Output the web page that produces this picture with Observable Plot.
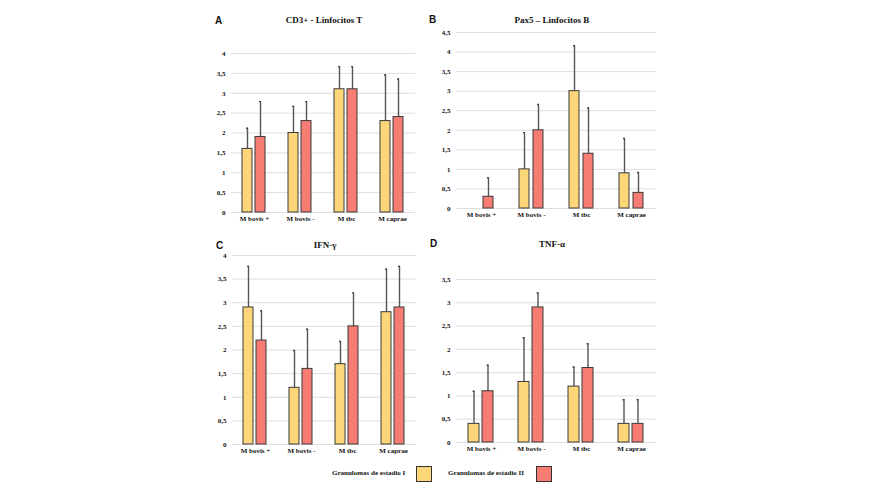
<!DOCTYPE html>
<html>
<head>
<meta charset="utf-8">
<script src="https://cdn.jsdelivr.net/npm/d3@7"></script>
<script src="https://cdn.jsdelivr.net/npm/@observablehq/plot@0.6"></script>
<style>
  body { margin: 0; background: #fff; }
  #fig { position: relative; width: 875px; height: 500px; overflow: hidden; background: #fff; }
  #fig svg { position: absolute; }
  .title { position: absolute; font: bold 9px "Liberation Serif", "Times New Roman", serif; color: #111;
           transform: translate(-50%, -50%); white-space: nowrap; }
  .letter { position: absolute; font: bold 10px "Liberation Sans", Arial, sans-serif; color: #111;
            transform: translateY(-50%); }
  .legend-text { position: absolute; font: bold 7px "Liberation Serif", "Times New Roman", serif; color: #111;
                 transform: translateY(-50%); white-space: nowrap; }
  .swatch { position: absolute; width: 14px; height: 14px; border: 1px solid #333; }
</style>
</head>
<body>
<div id="fig"></div>
<script>
// Mycobacterium groups and granuloma stages
const categories = ["M bovis +", "M bovis -", "M tbc", "M caprae"];
const stages = ["Granulomas de estadio I", "Granulomas de estadio II"];
const stageColors = ["#fdd67a", "#f77c74"];

// A: CD3+ T lymphocytes (mean and upper end of error bar)
const cd3StageI = [1.6, 2.0, 3.1, 2.3];
const cd3StageII = [1.9, 2.3, 3.1, 2.4];
const cd3UpperI = [2.12, 2.67, 3.67, 3.46];
const cd3UpperII = [2.79, 2.79, 3.67, 3.36];

// B: Pax5 B lymphocytes
const pax5StageI = [0, 1.0, 3.0, 0.9];
const pax5StageII = [0.3, 2.0, 1.4, 0.4];
const pax5UpperI = [0, 1.94, 4.16, 1.79];
const pax5UpperII = [0.78, 2.66, 2.57, 0.92];

// C: IFN-γ
const ifnStageI = [2.9, 1.2, 1.7, 2.8];
const ifnStageII = [2.2, 1.6, 2.5, 2.9];
const ifnUpperI = [3.77, 1.99, 2.18, 3.71];
const ifnUpperII = [2.83, 2.44, 3.21, 3.77];

// D: TNF-α
const tnfStageI = [0.4, 1.3, 1.2, 0.4];
const tnfStageII = [1.1, 2.9, 1.6, 0.4];
const tnfUpperI = [1.10, 2.25, 1.62, 0.92];
const tnfUpperII = [1.66, 3.21, 2.12, 0.92];

// y-axis tops of each panel
const yMaxA = 4, yMaxB = 4.5, yMaxC = 4, yMaxD = 3.5;

const fig = document.getElementById("fig");

function rowsFor(meansI, meansII, upperI, upperII) {
  const rows = [];
  categories.forEach((c, i) => {
    rows.push({category: c, stage: stages[0], value: meansI[i], upper: upperI[i]});
    rows.push({category: c, stage: stages[1], value: meansII[i], upper: upperII[i]});
  });
  return rows;
}

const commaFormat = d => String(d).replace(".", ",");

function drawPanel(p) {
  const rows = rowsFor(p.meansI, p.meansII, p.upperI, p.upperII);
  const ticks = d3.range(0, p.yMax + 1e-9, 0.5);
  const withBar = rows.filter(d => d.value > 0);
  const withErr = rows.filter(d => d.upper > d.value);
  const chart = Plot.plot({
    width: p.width,
    height: p.height,
    marginTop: p.marginTop,
    marginRight: p.marginRight,
    marginBottom: p.marginBottom,
    marginLeft: p.marginLeft,
    style: {
      fontFamily: '"Liberation Serif", "Times New Roman", serif',
      fontWeight: "bold",
      fontSize: "7px",
      color: "#111",
      background: "transparent",
      overflow: "visible"
    },
    fx: {domain: categories, padding: 0, axis: "bottom", label: null, tickSize: 0, tickPadding: 4},
    x: {domain: stages, axis: null, paddingInner: p.inner, paddingOuter: p.outer},
    y: {domain: [0, p.yMax], axis: null},
    color: {domain: stages, range: stageColors},
    marks: [
      Plot.gridY(ticks, {stroke: "#dedede", strokeOpacity: 1, strokeWidth: 1}),
      Plot.axisY({ticks, tickFormat: commaFormat, tickSize: 0, tickPadding: 6, label: null}),
      Plot.ruleX(withErr, {fx: "category", x: "stage", y1: "value", y2: "upper", stroke: "#555", strokeWidth: 1.4}),
      Plot.tickY(withErr, {fx: "category", x: "stage", y: "upper", stroke: "#444", strokeWidth: 1.4,
                           insetLeft: p.capInset, insetRight: p.capInset}),
      Plot.barY(withBar, {fx: "category", x: "stage", y: "value", fill: "stage", stroke: "#3a3a3a", strokeWidth: 1})
    ]
  });
  chart.style.left = p.left + "px";
  chart.style.top = p.top + "px";
  fig.appendChild(chart);

  const t = document.createElement("div");
  t.className = "title";
  t.textContent = p.title;
  t.style.left = p.titleX + "px";
  t.style.top = p.titleY + "px";
  fig.appendChild(t);

  const l = document.createElement("div");
  l.className = "letter";
  l.textContent = p.letter;
  l.style.left = p.letterX + "px";
  l.style.top = p.letterY + "px";
  fig.appendChild(l);
}

drawPanel({letter: "A", title: "CD3+ - Linfocitos T",
  meansI: cd3StageI, meansII: cd3StageII, upperI: cd3UpperI, upperII: cd3UpperII, yMax: yMaxA,
  left: 195, top: 40, width: 231, height: 192, marginLeft: 35, marginRight: 10, marginTop: 13, marginBottom: 20,
  inner: 0.22, outer: 0.78, capInset: 4,
  titleX: 324, titleY: 20, letterX: 215, letterY: 20});

drawPanel({letter: "B", title: "Pax5 – Linfocitos B",
  meansI: pax5StageI, meansII: pax5StageII, upperI: pax5UpperI, upperII: pax5UpperII, yMax: yMaxB,
  left: 420, top: 20, width: 247, height: 208, marginLeft: 35, marginRight: 10, marginTop: 12, marginBottom: 20,
  inner: 0.27, outer: 0.82, capInset: 4,
  titleX: 552, titleY: 20, letterX: 429, letterY: 19});

drawPanel({letter: "C", title: "IFN-γ",
  meansI: ifnStageI, meansII: ifnStageII, upperI: ifnUpperI, upperII: ifnUpperII, yMax: yMaxC,
  left: 195, top: 240, width: 231, height: 224, marginLeft: 36, marginRight: 10, marginTop: 15, marginBottom: 20,
  inner: 0.22, outer: 0.78, capInset: 4,
  titleX: 325, titleY: 245, letterX: 216, letterY: 245});

drawPanel({letter: "D", title: "TNF-α",
  meansI: tnfStageI, meansII: tnfStageII, upperI: tnfUpperI, upperII: tnfUpperII, yMax: yMaxD,
  left: 420, top: 240, width: 247, height: 222, marginLeft: 35, marginRight: 10, marginTop: 39, marginBottom: 20,
  inner: 0.2, outer: 0.78, capInset: 4.5,
  titleX: 552, titleY: 244, letterX: 430, letterY: 243});

// Legend below the panels
const legendItems = [
  {label: stages[0], color: stageColors[0], textX: 332, swatchX: 416},
  {label: stages[1], color: stageColors[1], textX: 448, swatchX: 536}
];
legendItems.forEach(item => {
  const txt = document.createElement("div");
  txt.className = "legend-text";
  txt.textContent = item.label;
  txt.style.left = item.textX + "px";
  txt.style.top = "473px";
  fig.appendChild(txt);
  const sw = document.createElement("div");
  sw.className = "swatch";
  sw.style.left = item.swatchX + "px";
  sw.style.top = "466px";
  sw.style.background = item.color;
  fig.appendChild(sw);
});
</script>
</body>
</html>
